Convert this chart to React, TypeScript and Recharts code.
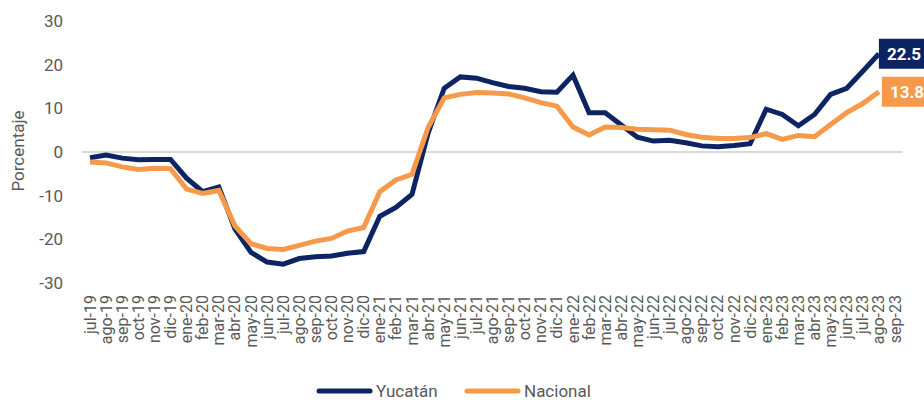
import React from 'react';
import { LineChart, Line, XAxis, YAxis, ReferenceLine, Legend, LabelList } from 'recharts';

const meses = [
    'jul-19', 'ago-19', 'sep-19', 'oct-19', 'nov-19', 'dic-19',
    'ene-20', 'feb-20', 'mar-20', 'abr-20', 'may-20', 'jun-20', 'jul-20', 'ago-20', 'sep-20', 'oct-20', 'nov-20', 'dic-20',
    'ene-21', 'feb-21', 'mar-21', 'abr-21', 'may-21', 'jun-21', 'jul-21', 'ago-21', 'sep-21', 'oct-21', 'nov-21', 'dic-21',
    'ene-22', 'feb-22', 'mar-22', 'abr-22', 'may-22', 'jun-22', 'jul-22', 'ago-22', 'sep-22', 'oct-22', 'nov-22', 'dic-22',
    'ene-23', 'feb-23', 'mar-23', 'abr-23', 'may-23', 'jun-23', 'jul-23', 'ago-23', 'sep-23',
];

const yucatan = [
    -1.3, -0.7, -1.4, -1.8, -1.7, -1.7,
    -6.0, -9.1, -8.0, -17.6, -23.0, -25.2, -25.7, -24.4, -24.0, -23.8, -23.2, -22.8,
    -14.7, -12.7, -9.7, 4.3, 14.6, 17.2, 16.9, 15.9, 15.0, 14.6, 13.8, 13.7,
    17.6, 9.0, 9.0, 6.2, 3.4, 2.5, 2.7, 2.1, 1.4, 1.2, 1.5, 1.9,
    9.8, 8.6, 6.0, 8.6, 13.2, 14.6, 18.5, 22.5, null,
];

const nacional = [
    -2.3, -2.5, -3.4, -4.0, -3.7, -3.8,
    -8.5, -9.5, -8.8, -16.9, -21.0, -22.1, -22.3, -21.4, -20.4, -19.8, -18.1, -17.3,
    -9.1, -6.4, -5.1, 5.6, 12.4, 13.2, 13.6, 13.5, 13.3, 12.4, 11.3, 10.5,
    5.7, 3.9, 5.7, 5.6, 5.2, 5.1, 5.0, 4.0, 3.4, 3.1, 3.1, 3.3,
    4.2, 2.9, 3.8, 3.5, 6.3, 9.0, 11.1, 13.8, null,
];

const yTicks = [-30, -20, -10, 0, 10, 20, 30];

const NAVY = '#0c2461';
const ORANGE = '#f6994a';
const GRAY_TEXT = '#595959';
const LAST = 49;

const data = meses.map((mes, i) => ({ mes, yucatan: yucatan[i], nacional: nacional[i] }));

const MonthTick = (props: any) => {
    const { x, y, payload } = props;
    return (
        <text
            transform={`translate(${x},${y + 12}) rotate(-90)`}
            textAnchor="end"
            dominantBaseline="central"
            fill={GRAY_TEXT}
            fontSize={16}
        >
            {payload.value}
        </text>
    );
};

const YTitle = () => (
    <text
        transform="translate(18,151) rotate(-90)"
        textAnchor="middle"
        dominantBaseline="central"
        fill={GRAY_TEXT}
        fontSize={17}
    >
        Porcentaje
    </text>
);

// etiqueta con caja al final de cada serie
const endTag = (color: string, shift: number) => (props: any) => {
    const { x, y, value, index } = props;
    if (index !== LAST || value == null) return null;
    return (
        <g>
            <rect x={x + shift} y={y - 15} width={50} height={30} fill={color} />
            <text x={x + shift + 8} y={y} dominantBaseline="central" fill="#fff" fontSize={17} fontWeight={700}>
                {Number(value).toFixed(1)}
            </text>
        </g>
    );
};

const legendItems = [
    { key: 'yucatan', name: 'Yucatán', color: NAVY, line: 317, text: 376 },
    { key: 'nacional', name: 'Nacional', color: ORANGE, line: 465, text: 524 },
];

const LegendContent = () => (
    <svg width={924} height={24} style={{ display: 'block', overflow: 'visible' }}>
        {legendItems.map((item) => (
            <g key={item.key}>
                <line x1={item.line + 2} x2={item.line + 53} y1={10} y2={10} stroke={item.color} strokeWidth={5} strokeLinecap="round" />
                <text x={item.text} y={10} dominantBaseline="central" fontSize={17} fill={GRAY_TEXT}>
                    {item.name}
                </text>
            </g>
        ))}
    </svg>
);

const App: React.FC = () => {
    return (
        <div style={{ position: 'absolute', left: 0, top: 0, width: 924, height: 400, background: '#fff', fontFamily: 'Roboto, sans-serif' }}>
            <LineChart width={924} height={400} data={data} margin={{ top: 21, right: 21, left: 0, bottom: 57 }}>
                <ReferenceLine y={0} stroke="#d9d9d9" strokeWidth={2} />
                <XAxis
                    dataKey="mes"
                    interval={0}
                    axisLine={false}
                    tickLine={false}
                    tickSize={0}
                    tickMargin={0}
                    height={60}
                    padding={{ left: 8, right: 8 }}
                    tick={<MonthTick />}
                />
                <YAxis
                    width={82}
                    domain={[-30, 30]}
                    ticks={yTicks}
                    axisLine={false}
                    tickLine={false}
                    tickSize={0}
                    tickMargin={19}
                    tick={{ fill: GRAY_TEXT, fontSize: 17 }}
                    label={<YTitle />}
                />
                <Legend
                    verticalAlign="middle"
                    align="center"
                    layout="horizontal"
                    wrapperStyle={{ top: 381, left: 0, width: 924, height: 24 }}
                    content={<LegendContent />}
                />
                <Line
                    type="linear"
                    dataKey="yucatan"
                    name="Yucatán"
                    stroke={NAVY}
                    strokeWidth={5}
                    dot={false}
                    activeDot={false}
                    isAnimationActive={false}
                >
                    <LabelList dataKey="yucatan" content={endTag(NAVY, 0)} />
                </Line>
                <Line
                    type="linear"
                    dataKey="nacional"
                    name="Nacional"
                    stroke={ORANGE}
                    strokeWidth={5}
                    dot={false}
                    activeDot={false}
                    isAnimationActive={false}
                >
                    <LabelList dataKey="nacional" content={endTag(ORANGE, 3)} />
                </Line>
            </LineChart>
        </div>
    );
};

export default App;
